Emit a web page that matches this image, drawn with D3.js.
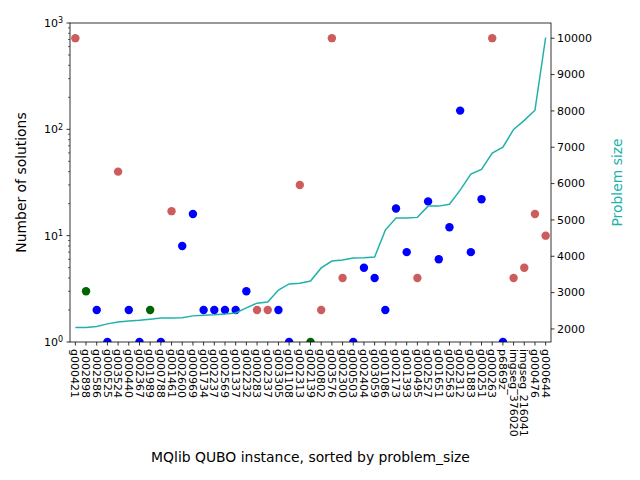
<!DOCTYPE html>
<html>
<head>
<meta charset="utf-8">
<script src="https://cdn.jsdelivr.net/npm/d3@7"></script>
<style>
  html, body { margin: 0; padding: 0; background: #fff; }
  svg { display: block; font-family: "DejaVu Sans", sans-serif; }
</style>
</head>
<body>
<svg id="chart" width="640" height="480"></svg>
<script>
// ---- data ----
const instances = [
  "g000421","g002898","g002586","g000525","g003524","g000440","g002367","g001989","g000788","g001461",
  "g002600","g000969","g001734","g002237","g002569","g001337","g002232","g000283","g002337","g003305",
  "g001108","g002313","g002139","g000802","g003576","g002300","g000503","g002404","g003059","g001086",
  "g002173","g001393","g000495","g002527","g001651","g002563","g002312","g001883","g000251","g000263",
  "p6869z","imgseg_376020","imgseg_216041","g000476","g000644"
];
const numSolutions = [
  720, 3, 2, 1, 40, 2, 1, 2, 1, 17,
  8, 16, 2, 2, 2, 2, 3, 2, 2, 2,
  1, 30, 1, 2, 720, 4, 1, 5, 4, 2,
  18, 7, 4, 21, 6, 12, 150, 7, 22, 720,
  1, 4, 5, 16, 10
];
const outcome = [
  "red","green","blue","blue","red","blue","blue","green","blue","red",
  "blue","blue","blue","blue","blue","blue","blue","red","red","blue",
  "blue","red","green","red","red","red","blue","blue","blue","blue",
  "blue","blue","red","blue","blue","blue","blue","blue","blue","red",
  "blue","red","red","red","red"
];
const problemSize = [
  2040, 2040, 2070, 2140, 2190, 2220, 2240, 2270, 2300, 2300,
  2310, 2360, 2380, 2390, 2410, 2440, 2580, 2710, 2740, 3070,
  3240, 3260, 3320, 3680, 3870, 3900, 3950, 3960, 3980, 4720,
  5050, 5050, 5070, 5380, 5380, 5430, 5820, 6260, 6390, 6840,
  7000, 7490, 7740, 8020, 10020
];
const leftMajorTicks = [1, 10, 100, 1000];
const rightTicks = [2000, 3000, 4000, 5000, 6000, 7000, 8000, 9000, 10000];

// ---- layout ----
const L = 70, R = 551, T = 23, B = 342;
const svg = d3.select("#chart");
const n = instances.length;

const x = d3.scaleLinear().domain([-0.5, n - 0.5]).range([L, R]);
const yL = d3.scaleLog().domain([1, 1000]).range([B, T]);
const sMin = d3.min(problemSize), sMax = d3.max(problemSize), pad = (sMax - sMin) * 0.05;
const yR = d3.scaleLinear().domain([sMin - pad, sMax + pad]).range([B, T]);
const color = d3.scaleOrdinal().domain(["red","green","blue"]).range(["#cd5c5c","#006400","#0000ff"]);
const teal = "#20b2aa";

svg.append("defs").append("clipPath").attr("id","clip")
  .append("rect").attr("x", L).attr("y", T).attr("width", R - L).attr("height", B - T);

// points
svg.append("g").attr("clip-path","url(#clip)")
  .selectAll("circle").data(numSolutions).join("circle")
  .attr("cx", (d, i) => x(i))
  .attr("cy", d => yL(d))
  .attr("r", 4.2)
  .attr("fill", (d, i) => color(outcome[i]));

// line (twin axis)
svg.append("path")
  .datum(problemSize)
  .attr("fill", "none")
  .attr("stroke", teal)
  .attr("stroke-width", 1.5)
  .attr("d", d3.line().x((d, i) => x(i)).y(d => yR(d)));

// frame
svg.append("rect").attr("x", L).attr("y", T).attr("width", R - L).attr("height", B - T)
  .attr("fill","none").attr("stroke","#000").attr("stroke-width",0.8);

// x axis
const xAxis = svg.append("g");
instances.forEach((name, i) => {
  const xi = x(i);
  xAxis.append("line").attr("x1", xi).attr("x2", xi).attr("y1", B).attr("y2", B + 3.5)
    .attr("stroke","#000").attr("stroke-width",0.8);
  xAxis.append("text")
    .attr("transform", `translate(${xi},${B + 7}) rotate(90)`)
    .attr("dy", "0.35em")
    .attr("text-anchor","start")
    .attr("font-size", 11)
    .attr("fill","#000")
    .text(name);
});

// left axis (log)
const yAxisL = svg.append("g");
const minor = [];
for (let e = 0; e < 3; e++) for (let m = 2; m <= 9; m++) minor.push(m * Math.pow(10, e));
minor.forEach(v => {
  yAxisL.append("line").attr("x1", L - 2).attr("x2", L).attr("y1", yL(v)).attr("y2", yL(v))
    .attr("stroke","#000").attr("stroke-width",0.6);
});
leftMajorTicks.forEach(v => {
  const yy = yL(v);
  yAxisL.append("line").attr("x1", L - 3.5).attr("x2", L).attr("y1", yy).attr("y2", yy)
    .attr("stroke","#000").attr("stroke-width",0.8);
  const t = yAxisL.append("text").attr("x", L - 7).attr("y", yy).attr("dy","0.35em")
    .attr("text-anchor","end").attr("font-size", 11).attr("fill","#000");
  t.append("tspan").text("10");
  t.append("tspan").attr("dy","-0.45em").attr("font-size", 8).text(String(Math.round(Math.log10(v))));
});

// right axis
const yAxisR = svg.append("g");
rightTicks.forEach(v => {
  const yy = yR(v);
  yAxisR.append("line").attr("x1", R).attr("x2", R + 3.5).attr("y1", yy).attr("y2", yy)
    .attr("stroke","#000").attr("stroke-width",0.8);
  yAxisR.append("text").attr("x", R + 6).attr("y", yy).attr("dy","0.35em")
    .attr("text-anchor","start").attr("font-size", 11).attr("fill","#000").text(v);
});

// axis labels
svg.append("text").attr("x", (L + R) / 2).attr("y", 462)
  .attr("text-anchor","middle").attr("font-size", 13.9).attr("fill","#000")
  .text("MQlib QUBO instance, sorted by problem_size");
svg.append("text").attr("transform", `translate(26,${(T + B) / 2}) rotate(-90)`)
  .attr("text-anchor","middle").attr("font-size", 13.9).attr("fill","#000")
  .text("Number of solutions");
svg.append("text").attr("transform", `translate(622,${(T + B) / 2}) rotate(-90)`)
  .attr("text-anchor","middle").attr("font-size", 13.9).attr("fill", teal)
  .text("Problem size");
</script>
</body>
</html>
